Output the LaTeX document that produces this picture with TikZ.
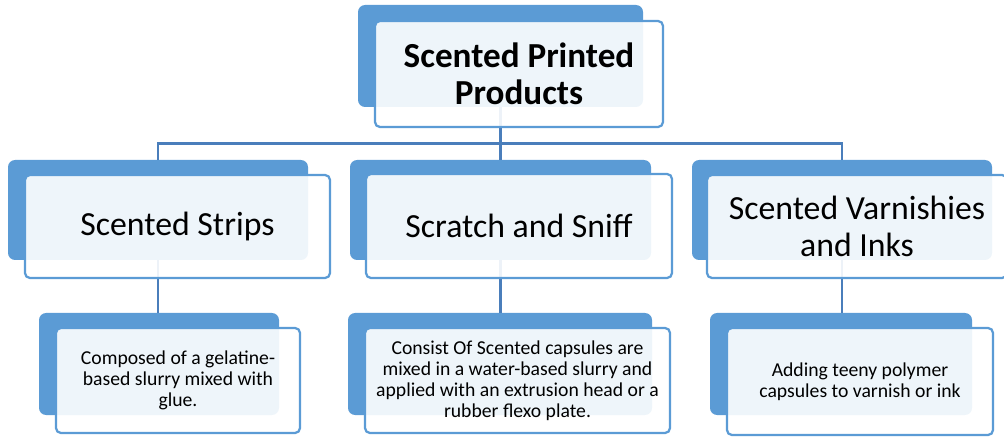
\documentclass[tikz,border=0pt]{standalone}
\usepackage{fontspec}
\setmainfont{Carlito}
\usepackage{tikz}
\usetikzlibrary{calc, positioning}

\definecolor{cardblue}{HTML}{5B9BD5}
\definecolor{linkblue}{HTML}{4A7EBB}
\def\px{0.025cm}

\begin{document}
\begin{tikzpicture}[
      x=0.025cm, y=-0.025cm,
      back/.style={fill=cardblue, rounded corners=5pt, inner sep=0pt},
      card/.style={draw=cardblue, line width=1.6pt, fill=white, fill opacity=0.9,
                   text opacity=1, rounded corners=3.5pt, inner sep=0pt, align=center},
      link/.style={draw=linkblue, line width=1.8pt},
      big/.style={font=\fontsize{24}{26.3}\selectfont},
      small/.style={font=\fontsize{14}{15}\selectfont},
    ]
    \useasboundingbox (0,0) rectangle (1004,438);

    % shaded plates behind each card
    \node[back, minimum width=285*\px, minimum height=102*\px] (titleB) at (500.5,56) {};
    \node[back, minimum width=300*\px, minimum height=100*\px] (stripsB) at (158,210) {};
    \node[back, minimum width=301*\px, minimum height=100*\px] (sniffB) at (500.5,210) {};
    \node[back, minimum width=300*\px, minimum height=100*\px] (varnB) at (842,210) {};
    \node[back, minimum width=240*\px, minimum height=102*\px] (gelB) at (159,364) {};
    \node[back, minimum width=304*\px, minimum height=102*\px] (capsB) at (500,364) {};
    \node[back, minimum width=262*\px, minimum height=102*\px] (polyB) at (841,364) {};

    % tree lines (run under the cards)
    \draw[link] (titleB.south) -- ++(0,36) coordinate (bus);
    \draw[link] (stripsB.north) |- (bus) -| (varnB.north);
    \draw[link] (bus) -- (bus -| sniffB.north) -- (sniffB.north);
    \draw[link] (stripsB.south) -- (stripsB.south |- gelB.north);
    \draw[link] (sniffB.south) -- (sniffB.south |- capsB.north);
    \draw[link] (varnB.south) -- (varnB.south |- polyB.north);

    % top card
    \node[card, big, font=\fontsize{25}{26.3}\selectfont\bfseries,
          minimum width=288*\px, minimum height=106*\px] (title) at (519,74)
      {Scented Printed\\Products};

    % second row
    \node[card, big, minimum width=305*\px, minimum height=103*\px] (strips) at (177.5,226.5)
      {Scented Strips};
    \node[card, big, minimum width=306*\px, minimum height=104*\px] (sniff) at (519,226)
      {Scratch and Sniff};
    \node[card, big, minimum width=300*\px, minimum height=103*\px] (varn) at (857,226.5)
      {Scented Varnishies\\and Inks};

    % third row
    \node[card, small, minimum width=244*\px, minimum height=105*\px] (gel) at (178,380.5)
      {Composed of a gelatine-\\based slurry mixed with\\glue.};
    \node[card, small, minimum width=305*\px, minimum height=105*\px] (caps) at (517.5,380.5)
      {Consist Of Scented capsules are\\mixed in a water-based slurry and\\applied with an extrusion head or a\\rubber flexo plate.};
    \node[card, small, minimum width=266*\px, minimum height=107*\px] (poly) at (860,381.5)
      {Adding teeny polymer\\capsules to varnish or ink};
  \end{tikzpicture}
\end{document}
